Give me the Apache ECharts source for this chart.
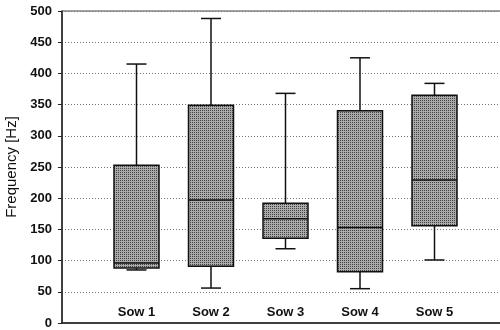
<!DOCTYPE html>
<html>
<head>
<meta charset="utf-8">
<script src="https://cdn.jsdelivr.net/npm/echarts@6/dist/echarts.min.js"></script>
<style>html,body{margin:0;padding:0;background:#fff}#c{width:500px;height:330px}</style>
</head>
<body>
<div id="c"></div>
<script>
// categories (blank padding slots at both ends)
const categories = ['', 'Sow 1', 'Sow 2', 'Sow 3', 'Sow 4', 'Sow 5', ''];
// box statistics per sow: [min, Q1, median, Q3, max]
const sow1 = [85, 88, 96, 253, 415];
const sow2 = [56, 91, 197, 349, 488];
const sow3 = [119, 136, 167, 192, 368];
const sow4 = [55, 82, 153, 340, 425];
const sow5 = [101, 156, 229, 365, 384];
const yTicks = [0, 50, 100, 150, 200, 250, 300, 350, 400, 450, 500];

const boxes = [sow1, sow2, sow3, sow4, sow5];
const seriesData = boxes.map((b, i) => [i + 1].concat(b));

const pat = document.createElement('canvas');
pat.width = 2; pat.height = 2;
const g = pat.getContext('2d');
g.fillStyle = '#ababab'; g.fillRect(0, 0, 2, 2);
g.fillStyle = '#404040'; g.fillRect(0, 0, 1, 1);

const BOX_HALF = 22.5, CAP_HALF = 10;

function renderItem(params, api) {
  const x = api.value(0);
  const pMin = api.coord([x, api.value(1)]);
  const pQ1 = api.coord([x, api.value(2)]);
  const pMed = api.coord([x, api.value(3)]);
  const pQ3 = api.coord([x, api.value(4)]);
  const pMax = api.coord([x, api.value(5)]);
  const cx = pMin[0];
  const line = {stroke: '#111', lineWidth: 1.5};
  return {
    type: 'group',
    children: [
      {type: 'line', shape: {x1: cx, y1: pQ3[1], x2: cx, y2: pMax[1]}, style: line},
      {type: 'line', shape: {x1: cx - CAP_HALF, y1: pMax[1], x2: cx + CAP_HALF, y2: pMax[1]}, style: line},
      {type: 'line', shape: {x1: cx, y1: pQ1[1], x2: cx, y2: pMin[1]}, style: line},
      {type: 'line', shape: {x1: cx - CAP_HALF, y1: pMin[1], x2: cx + CAP_HALF, y2: pMin[1]}, style: line},
      {type: 'rect', shape: {x: cx - BOX_HALF, y: pQ3[1], width: BOX_HALF * 2, height: pQ1[1] - pQ3[1]},
        style: {fill: {image: pat, repeat: 'repeat'}, stroke: '#111', lineWidth: 1.5}},
      {type: 'line', shape: {x1: cx - BOX_HALF, y1: pMed[1], x2: cx + BOX_HALF, y2: pMed[1]}, style: line}
    ]
  };
}

const chart = echarts.init(document.getElementById('c'), null, {renderer: 'canvas'});
chart.setOption({
  animation: false,
  grid: {left: 62, right: -9, top: 11, bottom: 7, show: true, borderColor: '#444', borderWidth: 1,
         containLabel: false, outerBoundsMode: 'none'},
  xAxis: {
    type: 'category', data: categories, boundaryGap: false,
    axisLine: {lineStyle: {color: '#222', width: 1.5}},
    axisTick: {show: false},
    splitLine: {show: false},
    axisLabel: {inside: true, margin: 4, interval: 0, fontFamily: 'Liberation Sans', fontWeight: 'bold', fontSize: 13, color: '#111'}
  },
  yAxis: {
    type: 'value', min: yTicks[0], max: yTicks[yTicks.length - 1], interval: 50,
    name: 'Frequency [Hz]', nameLocation: 'middle', nameGap: 42,
    nameTextStyle: {fontFamily: 'Liberation Sans', fontSize: 15, color: '#111'},
    axisLine: {show: true, lineStyle: {color: '#222', width: 1.5}},
    axisTick: {show: true, length: 4, lineStyle: {color: '#222'}},
    axisLabel: {margin: 10, fontFamily: 'Liberation Sans', fontWeight: 'bold', fontSize: 13, color: '#111'},
    splitLine: {show: true, lineStyle: {color: '#777', type: [1, 2], width: 1}}
  },
  series: [{
    type: 'custom',
    renderItem: renderItem,
    encode: {x: 0, y: [1, 2, 3, 4, 5]},
    data: seriesData
  }]
});
</script>
</body>
</html>
